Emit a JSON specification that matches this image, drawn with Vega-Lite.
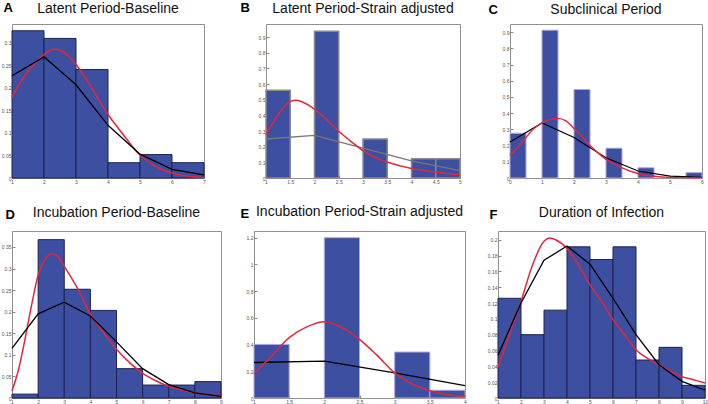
{
  "$schema": "https://vega.github.io/schema/vega-lite/v6.json",
  "background": "white",
  "padding": 0,
  "datasets": {
    "aBars": [{"x":1,"x1":2,"y":0.327},{"x":2,"x1":3,"y":0.310},{"x":3,"x1":4,"y":0.241},{"x":4,"x1":5,"y":0.034},{"x":5,"x1":6,"y":0.052},{"x":6,"x1":7,"y":0.034}],
    "aRed": [{"x":1,"y":0.180},{"x":1.25,"y":0.211},{"x":1.5,"y":0.237},{"x":1.75,"y":0.257},{"x":2,"y":0.274},{"x":2.3,"y":0.286},{"x":2.5,"y":0.283},{"x":2.75,"y":0.272},{"x":3,"y":0.252},{"x":3.25,"y":0.227},{"x":3.5,"y":0.199},{"x":3.75,"y":0.169},{"x":4,"y":0.141},{"x":4.25,"y":0.117},{"x":4.5,"y":0.094},{"x":5,"y":0.051},{"x":5.5,"y":0.025},{"x":6,"y":0.011},{"x":6.5,"y":0.004},{"x":7,"y":0.001}],
    "aBlack": [{"x":1,"y":0.227},{"x":2,"y":0.269},{"x":3,"y":0.207},{"x":4,"y":0.117},{"x":5,"y":0.053},{"x":6,"y":0.019},{"x":7,"y":0.007}],
    "bBars": [{"x":1,"x1":1.5,"y":0.56},{"x":2,"x1":2.5,"y":0.936},{"x":3,"x1":3.5,"y":0.249},{"x":4,"x1":4.5,"y":0.123},{"x":4.5,"x1":5,"y":0.123}],
    "bRed": [{"x":1,"y":0.277},{"x":1.25,"y":0.404},{"x":1.5,"y":0.489},{"x":1.625,"y":0.497},{"x":1.75,"y":0.485},{"x":2,"y":0.44},{"x":2.25,"y":0.372},{"x":2.5,"y":0.298},{"x":2.75,"y":0.234},{"x":3,"y":0.174},{"x":3.25,"y":0.132},{"x":3.5,"y":0.102},{"x":4,"y":0.06},{"x":4.5,"y":0.038},{"x":5,"y":0.021}],
    "bBlack": [{"x":1,"y":0.249},{"x":2,"y":0.272},{"x":3,"y":0.19},{"x":4,"y":0.11},{"x":5,"y":0.047}],
    "cBars": [{"x":0,"x1":0.5,"y":0.276},{"x":1,"x1":1.5,"y":0.912},{"x":2,"x1":2.5,"y":0.546},{"x":3,"x1":3.5,"y":0.184},{"x":4,"x1":4.5,"y":0.063},{"x":5.5,"x1":6,"y":0.033}],
    "cRed": [{"x":0,"y":0.14},{"x":0.25,"y":0.19},{"x":0.5,"y":0.25},{"x":0.75,"y":0.305},{"x":1,"y":0.34},{"x":1.25,"y":0.362},{"x":1.5,"y":0.368},{"x":1.75,"y":0.352},{"x":2,"y":0.305},{"x":2.25,"y":0.255},{"x":2.5,"y":0.2},{"x":2.75,"y":0.155},{"x":3,"y":0.115},{"x":3.5,"y":0.063},{"x":4,"y":0.028},{"x":4.5,"y":0.011},{"x":5,"y":0.004},{"x":6,"y":0.001}],
    "cBlack": [{"x":0,"y":0.222},{"x":1,"y":0.34},{"x":2,"y":0.25},{"x":3,"y":0.125},{"x":4,"y":0.043},{"x":5,"y":0.012},{"x":6,"y":0.004}],
    "dBars": [{"x":1,"x1":2,"y":0.009},{"x":2,"x1":3,"y":0.367},{"x":3,"x1":4,"y":0.252},{"x":4,"x1":5,"y":0.203},{"x":5,"x1":6,"y":0.068},{"x":6,"x1":7,"y":0.030},{"x":7,"x1":8,"y":0.030},{"x":8,"x1":9,"y":0.038}],
    "dRed": [{"x":1,"y":0.016},{"x":1.25,"y":0.066},{"x":1.5,"y":0.137},{"x":1.75,"y":0.215},{"x":2,"y":0.285},{"x":2.25,"y":0.32},{"x":2.5,"y":0.334},{"x":2.75,"y":0.328},{"x":3,"y":0.305},{"x":3.5,"y":0.255},{"x":4,"y":0.195},{"x":4.5,"y":0.152},{"x":5,"y":0.113},{"x":5.5,"y":0.082},{"x":6,"y":0.057},{"x":6.5,"y":0.04},{"x":7,"y":0.027},{"x":8,"y":0.012},{"x":9,"y":0.004}],
    "dBlack": [{"x":1,"y":0.115},{"x":2,"y":0.195},{"x":3,"y":0.222},{"x":4,"y":0.19},{"x":5,"y":0.13},{"x":6,"y":0.068},{"x":7,"y":0.031},{"x":8,"y":0.012},{"x":9,"y":0.004}],
    "eBars": [{"x":1,"x1":1.5,"y":0.401},{"x":2,"x1":2.5,"y":1.2},{"x":3,"x1":3.5,"y":0.344},{"x":3.5,"x1":4,"y":0.058}],
    "eRed": [{"x":1,"y":0.183},{"x":1.25,"y":0.314},{"x":1.5,"y":0.452},{"x":1.75,"y":0.532},{"x":2,"y":0.57},{"x":2.25,"y":0.527},{"x":2.5,"y":0.439},{"x":2.75,"y":0.319},{"x":3,"y":0.188},{"x":3.25,"y":0.105},{"x":3.5,"y":0.055},{"x":3.75,"y":0.025},{"x":4,"y":0.013}],
    "eBlack": [{"x":1,"y":0.266},{"x":2,"y":0.276},{"x":3,"y":0.188},{"x":4,"y":0.093}],
    "fBars": [{"x":1,"x1":2,"y":0.126},{"x":2,"x1":3,"y":0.080},{"x":3,"x1":4,"y":0.111},{"x":4,"x1":5,"y":0.191},{"x":5,"x1":6,"y":0.175},{"x":6,"x1":7,"y":0.191},{"x":7,"x1":8,"y":0.048},{"x":8,"x1":9,"y":0.064},{"x":9,"x1":10,"y":0.016}],
    "fRed": [{"x":1,"y":0.039},{"x":1.5,"y":0.08},{"x":2,"y":0.122},{"x":2.5,"y":0.168},{"x":3,"y":0.198},{"x":3.25,"y":0.202},{"x":3.5,"y":0.2},{"x":4,"y":0.189},{"x":4.5,"y":0.168},{"x":5,"y":0.143},{"x":5.5,"y":0.122},{"x":6,"y":0.099},{"x":6.5,"y":0.08},{"x":7,"y":0.061},{"x":7.5,"y":0.05},{"x":8,"y":0.042},{"x":8.5,"y":0.034},{"x":9,"y":0.027},{"x":9.5,"y":0.023},{"x":10,"y":0.019}],
    "fBlack": [{"x":1,"y":0.054},{"x":2,"y":0.12},{"x":3,"y":0.174},{"x":4,"y":0.192},{"x":5,"y":0.169},{"x":6,"y":0.126},{"x":7,"y":0.08},{"x":8,"y":0.042},{"x":9,"y":0.021},{"x":10,"y":0.01}]
  },
  "vconcat": [
    {
      "bounds": "flush",
      "spacing": 62,
      "hconcat": [
        {
          "width": 192, "height": 154,
          "title": {"text": "Latent Period-Baseline", "offset": -15},
          "encoding": {
            "x": {"field": "x", "type": "quantitative", "scale": {"domain": [1, 7], "nice": false, "zero": false}, "axis": {"values": [1,2,3,4,5,6,7], "title": null}},
            "y": {"field": "y", "type": "quantitative", "scale": {"domain": [0, 0.342], "nice": false}, "axis": {"values": [0,0.05,0.1,0.15,0.2,0.25,0.3], "format": "~g", "title": "A", "titleX": -9, "titleY": -13}}
          },
          "layer": [
            {"data": {"name": "aBars"}, "mark": {"type": "rect", "fill": "#3C4FA0", "stroke": "#1c2350", "strokeWidth": 1}, "encoding": {"x2": {"field": "x1"}, "y2": {"datum": 0}}},
            {"data": {"name": "aRed"}, "mark": {"type": "line", "color": "#E3263F", "strokeWidth": 1.5, "interpolate": "monotone"}, "encoding": {}},
            {"data": {"name": "aBlack"}, "mark": {"type": "line", "color": "#000000", "strokeWidth": 1.3}, "encoding": {}}
          ]
        },
        {
          "bounds": "flush",
          "spacing": 50,
          "hconcat": [
            {
              "width": 194, "height": 154,
              "title": {"text": "Latent Period-Strain adjusted", "offset": -15},
              "encoding": {
                "x": {"field": "x", "type": "quantitative", "scale": {"domain": [1, 5], "nice": false, "zero": false}, "axis": {"values": [1,1.5,2,2.5,3,3.5,4,4.5,5], "format": "~g", "title": null}},
                "y": {"field": "y", "type": "quantitative", "scale": {"domain": [0, 0.983], "nice": false}, "axis": {"values": [0,0.1,0.2,0.3,0.4,0.5,0.6,0.7,0.8,0.9], "format": "~g", "title": "B", "titleX": -26, "titleY": -13}}
              },
              "layer": [
                {"data": {"name": "bBars"}, "mark": {"type": "rect", "fill": "#3C4FA0", "stroke": "#8a8a8a", "strokeWidth": 1.5}, "encoding": {"x2": {"field": "x1"}, "y2": {"datum": 0}}},
                {"data": {"name": "bBlack"}, "mark": {"type": "line", "color": "#777777", "strokeWidth": 1.3}, "encoding": {}},
                {"data": {"name": "bRed"}, "mark": {"type": "line", "color": "#E3263F", "strokeWidth": 1.5, "interpolate": "monotone"}, "encoding": {}}
              ]
            },
            {
              "width": 192, "height": 154,
              "title": {"text": "Subclinical Period", "offset": -14},
              "encoding": {
                "x": {"field": "x", "type": "quantitative", "scale": {"domain": [0, 6], "nice": false, "zero": false}, "axis": {"values": [0,1,2,3,4,5,6], "title": null}},
                "y": {"field": "y", "type": "quantitative", "scale": {"domain": [0, 0.95], "nice": false}, "axis": {"values": [0,0.1,0.2,0.3,0.4,0.5,0.6,0.7,0.8,0.9], "format": "~g", "title": "C", "titleX": -22, "titleY": -11}}
              },
              "layer": [
                {"data": {"name": "cBars"}, "mark": {"type": "rect", "fill": "#3C4FA0", "stroke": "#b3a6dc", "strokeWidth": 1}, "encoding": {"x2": {"field": "x1"}, "y2": {"datum": 0}}},
                {"data": {"name": "cBlack"}, "mark": {"type": "line", "color": "#000000", "strokeWidth": 1.2}, "encoding": {}},
                {"data": {"name": "cRed"}, "mark": {"type": "line", "color": "#E3263F", "strokeWidth": 1.4, "interpolate": "monotone"}, "encoding": {}}
              ]
            }
          ]
        }
      ]
    },
    {
      "bounds": "flush",
      "spacing": 33,
      "hconcat": [
        {
          "width": 209, "height": 167,
          "title": {"text": "Incubation Period-Baseline", "offset": -12},
          "encoding": {
            "x": {"field": "x", "type": "quantitative", "scale": {"domain": [1, 9], "nice": false, "zero": false}, "axis": {"values": [1,2,3,4,5,6,7,8,9], "title": null}},
            "y": {"field": "y", "type": "quantitative", "scale": {"domain": [0, 0.387], "nice": false}, "axis": {"values": [0,0.05,0.1,0.15,0.2,0.25,0.3,0.35], "format": "~g", "title": "D", "titleX": -7, "titleY": -13}}
          },
          "layer": [
            {"data": {"name": "dBars"}, "mark": {"type": "rect", "fill": "#3C4FA0", "stroke": "#1c2350", "strokeWidth": 1}, "encoding": {"x2": {"field": "x1"}, "y2": {"datum": 0}}},
            {"data": {"name": "dRed"}, "mark": {"type": "line", "color": "#E3263F", "strokeWidth": 1.5, "interpolate": "monotone"}, "encoding": {}},
            {"data": {"name": "dBlack"}, "mark": {"type": "line", "color": "#000000", "strokeWidth": 1.3}, "encoding": {}}
          ]
        },
        {
          "width": 211, "height": 167,
          "title": {"text": "Incubation Period-Strain adjusted", "offset": -12},
          "encoding": {
            "x": {"field": "x", "type": "quantitative", "scale": {"domain": [1, 4], "nice": false, "zero": false}, "axis": {"values": [1,1.5,2,2.5,3,3.5,4], "format": "~g", "title": null}},
            "y": {"field": "y", "type": "quantitative", "scale": {"domain": [0, 1.25], "nice": false}, "axis": {"values": [0,0.2,0.4,0.6,0.8,1,1.2], "format": "~g", "title": "E", "titleX": -14, "titleY": -14}}
          },
          "layer": [
            {"data": {"name": "eBars"}, "mark": {"type": "rect", "fill": "#3C4FA0", "stroke": "#b3a6dc", "strokeWidth": 1}, "encoding": {"x2": {"field": "x1"}, "y2": {"datum": 0}}},
            {"data": {"name": "eBlack"}, "mark": {"type": "line", "color": "#000000", "strokeWidth": 1.4}, "encoding": {}},
            {"data": {"name": "eRed"}, "mark": {"type": "line", "color": "#E3263F", "strokeWidth": 1.5, "interpolate": "monotone"}, "encoding": {}}
          ]
        },
        {
          "width": 207, "height": 167,
          "title": {"text": "Duration of Infection", "offset": -12},
          "encoding": {
            "x": {"field": "x", "type": "quantitative", "scale": {"domain": [1, 10], "nice": false, "zero": false}, "axis": {"values": [1,2,3,4,5,6,7,8,9,10], "title": null}},
            "y": {"field": "y", "type": "quantitative", "scale": {"domain": [0, 0.211], "nice": false}, "axis": {"values": [0,0.02,0.04,0.06,0.08,0.1,0.12,0.14,0.16,0.18,0.2], "format": "~g", "title": "F", "titleX": -9, "titleY": -13}}
          },
          "layer": [
            {"data": {"name": "fBars"}, "mark": {"type": "rect", "fill": "#3C4FA0", "stroke": "#1c2350", "strokeWidth": 1}, "encoding": {"x2": {"field": "x1"}, "y2": {"datum": 0}}},
            {"data": {"name": "fRed"}, "mark": {"type": "line", "color": "#E3263F", "strokeWidth": 1.5, "interpolate": "monotone"}, "encoding": {}},
            {"data": {"name": "fBlack"}, "mark": {"type": "line", "color": "#000000", "strokeWidth": 1.3}, "encoding": {}}
          ]
        }
      ]
    }
  ],
  "spacing": 19,
  "config": {
    "font": "Liberation Sans",
    "view": {"stroke": "#8f8f8f", "strokeWidth": 1},
    "axis": {"grid": false, "domain": false, "labelFontSize": 5, "labelColor": "#555555", "labelOverlap": false, "labelFlush": false, "labelBound": false, "tickColor": "#888888", "tickSize": -3, "labelPadding": 4, "titleFontSize": 13, "titleFontWeight": "bold", "titleColor": "#000000", "titleAngle": 0, "titleAlign": "left", "titleBaseline": "alphabetic"},
    "title": {"fontSize": 14, "fontWeight": "normal", "font": "Liberation Sans", "color": "#111111", "frame": "group", "anchor": "middle"}
  }
}
